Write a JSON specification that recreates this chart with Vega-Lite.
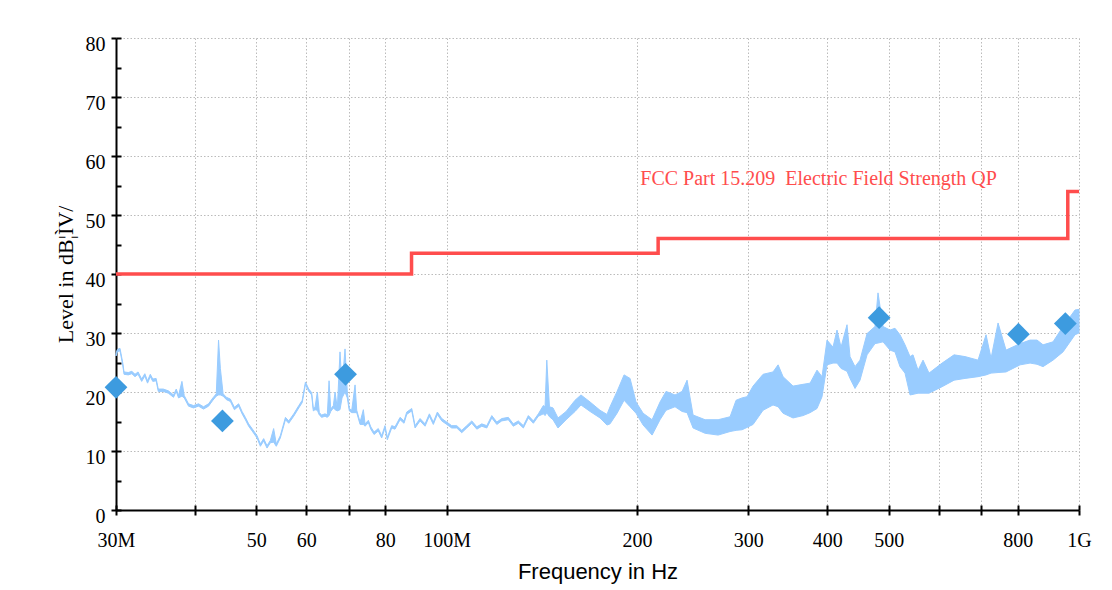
{
  "$schema": "https://vega.github.io/schema/vega-lite/v6.json",
  "width": 963,
  "height": 472,
  "autosize": {"type": "none"},
  "padding": {"left": 116, "top": 38, "right": 33, "bottom": 80},
  "background": "white",
  "config": {
    "view": {"stroke": null},
    "axis": {
      "domainColor": "black",
      "domainWidth": 2,
      "tickColor": "black",
      "tickWidth": 2,
      "tickSize": 5,
      "labelFont": "Liberation Serif",
      "labelFontSize": 20,
      "labelColor": "black",
      "labelFlush": false,
      "labelOverlap": false,
      "gridColor": "#BBBBBB",
      "gridDash": [1.5, 2],
      "gridWidth": 1,
      "titleColor": "black",
      "titleFontWeight": "normal"
    }
  },
  "datasets": {
    "trace": [
      {"f": 30.0, "lo": 26.1, "hi": 26.5},
      {"f": 30.14, "lo": 26.8, "hi": 27.2},
      {"f": 30.44, "lo": 27.0, "hi": 27.4},
      {"f": 30.74, "lo": 24.6, "hi": 25.0},
      {"f": 30.89, "lo": 23.0, "hi": 23.4},
      {"f": 31.37, "lo": 22.9, "hi": 23.3},
      {"f": 31.78, "lo": 23.1, "hi": 23.5},
      {"f": 32.15, "lo": 22.6, "hi": 23.0},
      {"f": 32.51, "lo": 23.0, "hi": 23.4},
      {"f": 32.94, "lo": 21.8, "hi": 22.2},
      {"f": 33.32, "lo": 22.7, "hi": 23.1},
      {"f": 33.65, "lo": 21.5, "hi": 21.9},
      {"f": 33.99, "lo": 22.6, "hi": 23.0},
      {"f": 34.30, "lo": 21.8, "hi": 22.2},
      {"f": 34.72, "lo": 21.9, "hi": 22.3},
      {"f": 34.99, "lo": 20.1, "hi": 20.5},
      {"f": 35.63, "lo": 20.1, "hi": 20.5},
      {"f": 36.30, "lo": 19.8, "hi": 20.2},
      {"f": 36.99, "lo": 19.1, "hi": 19.5},
      {"f": 37.36, "lo": 20.1, "hi": 20.5},
      {"f": 37.67, "lo": 19.0, "hi": 19.4},
      {"f": 38.14, "lo": 19.3, "hi": 21.8},
      {"f": 38.46, "lo": 19.0, "hi": 19.4},
      {"f": 39.07, "lo": 17.6, "hi": 18.0},
      {"f": 39.78, "lo": 17.3, "hi": 17.7},
      {"f": 40.52, "lo": 17.6, "hi": 18.0},
      {"f": 41.26, "lo": 17.1, "hi": 17.5},
      {"f": 42.02, "lo": 17.6, "hi": 18.0},
      {"f": 42.69, "lo": 18.6, "hi": 19.0},
      {"f": 43.22, "lo": 19.3, "hi": 19.7},
      {"f": 43.58, "lo": 19.5, "hi": 28.8},
      {"f": 43.87, "lo": 19.5, "hi": 24.0},
      {"f": 44.31, "lo": 19.3, "hi": 19.7},
      {"f": 44.85, "lo": 18.7, "hi": 19.1},
      {"f": 45.50, "lo": 18.4, "hi": 18.8},
      {"f": 46.17, "lo": 17.0, "hi": 17.4},
      {"f": 46.89, "lo": 17.6, "hi": 18.0},
      {"f": 47.48, "lo": 16.3, "hi": 16.7},
      {"f": 48.05, "lo": 15.3, "hi": 15.7},
      {"f": 48.63, "lo": 14.2, "hi": 14.6},
      {"f": 49.24, "lo": 13.4, "hi": 13.8},
      {"f": 50.14, "lo": 12.2, "hi": 12.6},
      {"f": 50.75, "lo": 10.8, "hi": 11.2},
      {"f": 51.36, "lo": 11.7, "hi": 12.1},
      {"f": 51.99, "lo": 10.5, "hi": 10.9},
      {"f": 52.63, "lo": 11.4, "hi": 11.8},
      {"f": 53.26, "lo": 11.5, "hi": 13.8},
      {"f": 53.78, "lo": 10.8, "hi": 11.2},
      {"f": 54.57, "lo": 12.2, "hi": 12.6},
      {"f": 55.60, "lo": 15.3, "hi": 15.7},
      {"f": 56.27, "lo": 14.7, "hi": 15.1},
      {"f": 57.31, "lo": 15.9, "hi": 16.3},
      {"f": 58.37, "lo": 17.3, "hi": 17.7},
      {"f": 59.10, "lo": 18.2, "hi": 18.6},
      {"f": 59.80, "lo": 21.3, "hi": 21.7},
      {"f": 60.53, "lo": 20.1, "hi": 20.5},
      {"f": 61.17, "lo": 19.5, "hi": 19.9},
      {"f": 61.54, "lo": 16.8, "hi": 17.2},
      {"f": 61.92, "lo": 17.0, "hi": 17.4},
      {"f": 62.45, "lo": 16.9, "hi": 20.0},
      {"f": 62.90, "lo": 16.1, "hi": 16.5},
      {"f": 63.45, "lo": 15.7, "hi": 16.1},
      {"f": 64.22, "lo": 15.9, "hi": 16.3},
      {"f": 64.76, "lo": 15.7, "hi": 16.1},
      {"f": 65.17, "lo": 16.0, "hi": 21.9},
      {"f": 65.57, "lo": 16.7, "hi": 17.1},
      {"f": 66.20, "lo": 17.3, "hi": 17.7},
      {"f": 66.61, "lo": 17.0, "hi": 20.0},
      {"f": 67.16, "lo": 16.8, "hi": 17.2},
      {"f": 67.82, "lo": 17.0, "hi": 26.8},
      {"f": 68.32, "lo": 19.0, "hi": 21.0},
      {"f": 69.07, "lo": 20.0, "hi": 27.3},
      {"f": 69.65, "lo": 19.0, "hi": 20.0},
      {"f": 70.16, "lo": 16.8, "hi": 17.2},
      {"f": 70.78, "lo": 16.5, "hi": 16.9},
      {"f": 71.64, "lo": 16.5, "hi": 21.2},
      {"f": 72.08, "lo": 16.5, "hi": 16.9},
      {"f": 72.96, "lo": 14.5, "hi": 14.9},
      {"f": 73.84, "lo": 14.5, "hi": 17.0},
      {"f": 74.30, "lo": 14.2, "hi": 14.6},
      {"f": 75.20, "lo": 14.8, "hi": 15.2},
      {"f": 75.86, "lo": 13.7, "hi": 14.1},
      {"f": 76.77, "lo": 12.8, "hi": 13.2},
      {"f": 77.96, "lo": 13.4, "hi": 13.8},
      {"f": 78.94, "lo": 12.2, "hi": 12.6},
      {"f": 79.89, "lo": 13.9, "hi": 14.3},
      {"f": 80.57, "lo": 11.9, "hi": 12.3},
      {"f": 81.87, "lo": 13.9, "hi": 14.3},
      {"f": 82.86, "lo": 13.7, "hi": 14.1},
      {"f": 84.40, "lo": 15.3, "hi": 15.7},
      {"f": 85.63, "lo": 14.7, "hi": 15.1},
      {"f": 86.47, "lo": 16.2, "hi": 16.6},
      {"f": 88.07, "lo": 16.8, "hi": 17.2},
      {"f": 89.14, "lo": 13.9, "hi": 14.3},
      {"f": 90.77, "lo": 15.1, "hi": 15.5},
      {"f": 92.44, "lo": 14.2, "hi": 14.6},
      {"f": 93.90, "lo": 15.9, "hi": 16.3},
      {"f": 95.27, "lo": 14.5, "hi": 14.9},
      {"f": 96.68, "lo": 16.2, "hi": 16.6},
      {"f": 98.24, "lo": 15.1, "hi": 15.5},
      {"f": 100.04, "lo": 14.5, "hi": 14.9},
      {"f": 101.87, "lo": 13.9, "hi": 14.3},
      {"f": 103.75, "lo": 13.9, "hi": 14.3},
      {"f": 105.65, "lo": 13.1, "hi": 13.5},
      {"f": 107.60, "lo": 13.9, "hi": 14.3},
      {"f": 109.59, "lo": 14.7, "hi": 15.1},
      {"f": 111.61, "lo": 13.7, "hi": 14.1},
      {"f": 113.66, "lo": 14.2, "hi": 14.6},
      {"f": 115.74, "lo": 13.9, "hi": 14.3},
      {"f": 117.87, "lo": 15.6, "hi": 16.0},
      {"f": 120.04, "lo": 14.5, "hi": 14.9},
      {"f": 122.21, "lo": 15.1, "hi": 15.5},
      {"f": 125.17, "lo": 15.3, "hi": 15.7},
      {"f": 127.47, "lo": 14.2, "hi": 14.6},
      {"f": 129.82, "lo": 14.7, "hi": 15.1},
      {"f": 132.23, "lo": 13.9, "hi": 14.3},
      {"f": 134.65, "lo": 15.6, "hi": 16.0},
      {"f": 137.13, "lo": 14.7, "hi": 15.1},
      {"f": 139.65, "lo": 15.9, "hi": 16.3},
      {"f": 142.21, "lo": 16.3, "hi": 17.7},
      {"f": 143.1, "lo": 16.0, "hi": 17.5},
      {"f": 144.0, "lo": 16.5, "hi": 25.4},
      {"f": 145.4, "lo": 15.8, "hi": 17.5},
      {"f": 147.3, "lo": 15.3, "hi": 17.3},
      {"f": 150.0, "lo": 13.9, "hi": 15.6},
      {"f": 154.5, "lo": 15.3, "hi": 16.7},
      {"f": 159.6, "lo": 16.7, "hi": 18.6},
      {"f": 163.1, "lo": 17.8, "hi": 19.5},
      {"f": 168.6, "lo": 16.7, "hi": 18.3},
      {"f": 174.8, "lo": 15.6, "hi": 16.9},
      {"f": 179.3, "lo": 14.4, "hi": 16.2},
      {"f": 181.3, "lo": 14.6, "hi": 17.5},
      {"f": 186.0, "lo": 16.4, "hi": 20.1},
      {"f": 190.8, "lo": 18.6, "hi": 22.9},
      {"f": 195.0, "lo": 17.5, "hi": 22.3},
      {"f": 199.3, "lo": 16.4, "hi": 18.3},
      {"f": 204.5, "lo": 14.4, "hi": 16.4},
      {"f": 211.3, "lo": 12.7, "hi": 15.3},
      {"f": 217.5, "lo": 15.3, "hi": 18.3},
      {"f": 222.3, "lo": 16.9, "hi": 20.1},
      {"f": 229.7, "lo": 17.5, "hi": 19.5},
      {"f": 235.7, "lo": 16.7, "hi": 20.1},
      {"f": 240.0, "lo": 16.5, "hi": 22.0},
      {"f": 245.3, "lo": 13.9, "hi": 16.1},
      {"f": 256.3, "lo": 13.0, "hi": 15.3},
      {"f": 268.7, "lo": 12.7, "hi": 15.3},
      {"f": 280.7, "lo": 13.3, "hi": 15.8},
      {"f": 286.9, "lo": 13.5, "hi": 18.6},
      {"f": 293.2, "lo": 13.6, "hi": 19.0},
      {"f": 298.6, "lo": 14.0, "hi": 19.2},
      {"f": 305.2, "lo": 14.5, "hi": 21.0},
      {"f": 316.5, "lo": 16.9, "hi": 23.0},
      {"f": 328.2, "lo": 17.8, "hi": 23.4},
      {"f": 334.3, "lo": 17.5, "hi": 24.6},
      {"f": 340.4, "lo": 16.4, "hi": 22.6},
      {"f": 353.0, "lo": 15.6, "hi": 21.0},
      {"f": 366.1, "lo": 16.0, "hi": 21.3},
      {"f": 375.6, "lo": 16.5, "hi": 21.5},
      {"f": 385.2, "lo": 17.2, "hi": 23.7},
      {"f": 392.3, "lo": 19.2, "hi": 22.6},
      {"f": 399.5, "lo": 24.6, "hi": 28.8},
      {"f": 408.3, "lo": 24.9, "hi": 27.6},
      {"f": 414.3, "lo": 24.9, "hi": 30.5},
      {"f": 420.4, "lo": 24.0, "hi": 27.6},
      {"f": 429.7, "lo": 23.5, "hi": 31.4},
      {"f": 434.4, "lo": 22.3, "hi": 26.0},
      {"f": 442.4, "lo": 20.6, "hi": 24.3},
      {"f": 450.5, "lo": 22.0, "hi": 25.4},
      {"f": 462.2, "lo": 26.3, "hi": 29.9},
      {"f": 475.8, "lo": 28.2, "hi": 31.1},
      {"f": 481.0, "lo": 28.3, "hi": 36.8},
      {"f": 489.9, "lo": 28.5, "hi": 31.1},
      {"f": 502.5, "lo": 27.1, "hi": 30.5},
      {"f": 511.7, "lo": 26.8, "hi": 30.8},
      {"f": 521.1, "lo": 24.3, "hi": 29.7},
      {"f": 530.7, "lo": 23.2, "hi": 28.0},
      {"f": 540.5, "lo": 19.5, "hi": 26.0},
      {"f": 546.4, "lo": 19.6, "hi": 26.3},
      {"f": 556.5, "lo": 19.8, "hi": 23.7},
      {"f": 566.7, "lo": 19.8, "hi": 25.4},
      {"f": 579.2, "lo": 19.8, "hi": 23.2},
      {"f": 607.4, "lo": 20.9, "hi": 24.9},
      {"f": 634.5, "lo": 22.0, "hi": 26.3},
      {"f": 660.4, "lo": 22.3, "hi": 26.0},
      {"f": 692.4, "lo": 22.6, "hi": 25.4},
      {"f": 712.9, "lo": 22.9, "hi": 29.7},
      {"f": 726.0, "lo": 23.2, "hi": 25.7},
      {"f": 744.7, "lo": 23.3, "hi": 31.7},
      {"f": 766.7, "lo": 23.4, "hi": 27.1},
      {"f": 806.8, "lo": 24.6, "hi": 28.2},
      {"f": 836.8, "lo": 24.9, "hi": 28.8},
      {"f": 858.3, "lo": 24.7, "hi": 28.8},
      {"f": 877.3, "lo": 24.3, "hi": 28.0},
      {"f": 909.8, "lo": 25.4, "hi": 28.5},
      {"f": 943.5, "lo": 26.8, "hi": 31.1},
      {"f": 985.6, "lo": 29.7, "hi": 33.9},
      {"f": 1000.0, "lo": 30.0, "hi": 34.0}
    ],
    "limit": [
      {"f": 30, "v": 40},
      {"f": 88, "v": 43.5},
      {"f": 216, "v": 46},
      {"f": 960, "v": 54},
      {"f": 1000, "v": 54}
    ],
    "peaks": [
      {"f": 30.0, "v": 20.8},
      {"f": 44.2, "v": 15.1},
      {"f": 69.2, "v": 23.0},
      {"f": 483.0, "v": 32.6},
      {"f": 802.0, "v": 29.8},
      {"f": 951.5, "v": 31.6}
    ],
    "label": [
      {"f": 202.4, "v": 55.1, "text": "FCC Part 15.209 \u00a0Electric Field Strength QP"}
    ]
  },
  "layer": [
    {
      "layer": [
        {
          "data": {"name": "trace"},
          "mark": {"type": "area", "color": "#99CCFF", "stroke": "#99CCFF", "strokeWidth": 1, "opacity": 1},
          "encoding": {
            "x": {
              "field": "f", "type": "quantitative", "title": "Frequency in Hz",
              "scale": {"type": "log", "domain": [30, 1000], "nice": false},
              "axis": {
                "values": [30, 40, 50, 60, 70, 80, 100, 200, 300, 400, 500, 600, 700, 800, 1000],
                "labelExpr": "datum.value == 30 ? '30M' : datum.value == 100 ? '100M' : datum.value == 1000 ? '1G' : (datum.value == 40 || datum.value == 70 || datum.value == 600 || datum.value == 700) ? '' : datum.label",
                "labelPadding": 15,
                "labelBaseline": "top",
                "grid": true,
                "titleFont": "Liberation Sans",
                "titleFontSize": 22,
                "titlePadding": 11
              }
            },
            "y": {
              "field": "lo", "type": "quantitative", "title": "Level in dB¦ÌV/",
              "scale": {"domain": [0, 80], "nice": false},
              "axis": {
                "values": [0, 5, 10, 15, 20, 25, 30, 35, 40, 45, 50, 55, 60, 65, 70, 75, 80],
                "labelExpr": "datum.value % 10 == 0 ? datum.label : ''",
                "labelPadding": 6,
                "labelOffset": 6,
                "grid": true,
                "titleFont": "Liberation Serif",
                "titleFontSize": 22,
                "titlePadding": 8
              }
            },
            "y2": {"field": "hi"}
          }
        },
        {
          "data": {"name": "limit"},
          "mark": {"type": "line", "interpolate": "step-after", "color": "#FF4D4D", "strokeWidth": 3.5},
          "encoding": {
            "x": {"field": "f", "type": "quantitative", "title": "Frequency in Hz"},
            "y": {"field": "v", "type": "quantitative", "title": "Level in dB¦ÌV/"}
          }
        },
        {
          "data": {"name": "peaks"},
          "mark": {"type": "point", "shape": "diamond", "filled": true, "size": 520, "color": "#3D9BDF", "opacity": 1},
          "encoding": {
            "x": {"field": "f", "type": "quantitative", "title": "Frequency in Hz"},
            "y": {"field": "v", "type": "quantitative", "title": "Level in dB¦ÌV/"}
          }
        },
        {
          "data": {"name": "label"},
          "mark": {"type": "text", "align": "left", "baseline": "alphabetic", "font": "Liberation Serif", "fontSize": 20, "color": "#FF4D4D"},
          "encoding": {
            "x": {"field": "f", "type": "quantitative", "title": "Frequency in Hz"},
            "y": {"field": "v", "type": "quantitative", "title": "Level in dB¦ÌV/"},
            "text": {"field": "text"}
          }
        }
      ]
    },
    {
      "data": {"name": "limit"},
      "mark": {"type": "point", "opacity": 0},
      "encoding": {
        "x": {
          "field": "f", "type": "quantitative",
          "axis": {
            "orient": "bottom", "title": null, "labels": false, "domain": false, "grid": false,
            "tickSize": -5,
            "values": [30, 40, 50, 60, 70, 80, 100, 200, 300, 400, 500, 600, 700, 800, 1000]
          }
        },
        "y": {
          "field": "v", "type": "quantitative",
          "axis": {
            "orient": "left", "title": null, "labels": false, "domain": false, "grid": false,
            "tickSize": -5,
            "values": [0, 5, 10, 15, 20, 25, 30, 35, 40, 45, 50, 55, 60, 65, 70, 75, 80]
          }
        }
      }
    }
  ],
  "resolve": {"axis": {"x": "independent", "y": "independent"}}
}
